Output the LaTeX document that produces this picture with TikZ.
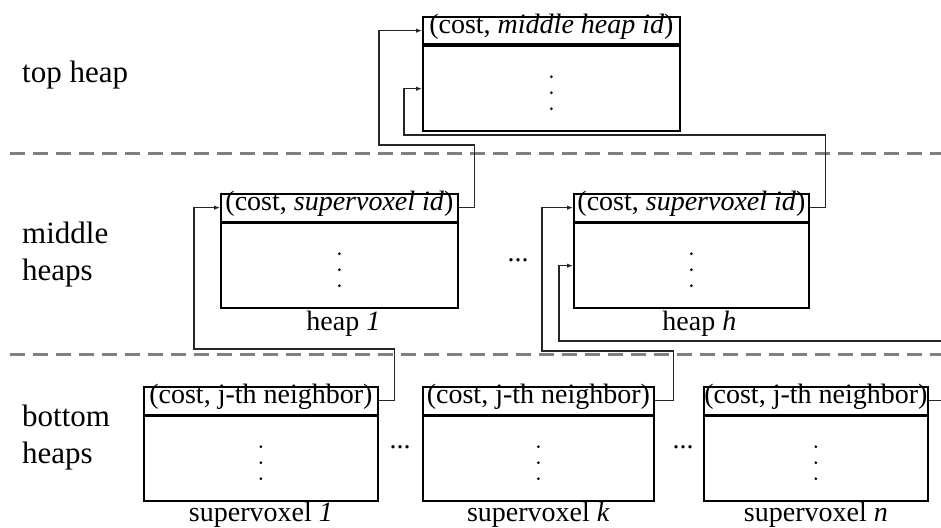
\documentclass[tikz,border=0pt]{standalone}
\usepackage{fontspec}
\setmainfont{Liberation Serif}
\usetikzlibrary{arrows.meta}
\begin{document}
\begin{tikzpicture}[x=1pt,y=-1pt,
  heapbox/.style={draw=black, line width=1.8pt, inner sep=0pt},
  headcell/.style={heapbox, minimum height=27.5pt, text height=0.69em, text depth=0.18em,
    font=\fontsize{28}{30}\selectfont},
  bodycell/.style={heapbox, minimum height=85pt, anchor=north},
  conn/.style={draw=black!85, line width=1.1pt},
  arrowin/.style={-{Latex[length=6pt,width=4.5pt]}},
  sep/.style={draw=black!50, line width=3pt, dash pattern=on 15pt off 8pt},
  sidelabel/.style={anchor=base west, inner sep=0pt, align=left,
    font=\fontsize{31}{37}\selectfont},
  caption/.style={anchor=base, inner sep=0pt, font=\fontsize{28}{30}\selectfont},
  gap/.style={anchor=base, inner sep=0pt, font=\fontsize{28}{30}\selectfont},
]
\useasboundingbox (0,0) rectangle (941,527);

% level separators
\draw[sep] (10,153) -- (941,153);
\draw[sep] (10,354) -- (941,354);

% level names (a two-line node sits on its last baseline)
\node[sidelabel] (lt) at (22,82) {top heap};
\node[sidelabel] (lm) at (22,280) {middle\\heaps};
\node[sidelabel] (lb) at (22,463) {bottom\\heaps};

% top heap
\node[headcell, minimum width=257pt, anchor=north west] (Th) at (422,16) {(cost, \textit{middle heap id})};
\node[bodycell, minimum width=257pt] (T) at (Th.south) {};

% middle heaps
\node[headcell, minimum width=237pt, anchor=north west] (H1h) at (220,193) {(cost, \textit{supervoxel id})};
\node[bodycell, minimum width=237pt] (H1) at (H1h.south) {};
\node[headcell, minimum width=235pt, anchor=north west] (Hhh) at (573,193) {(cost, \textit{supervoxel id})};
\node[bodycell, minimum width=235pt] (Hh) at (Hhh.south) {};

% bottom heaps
\node[headcell, minimum width=234pt, anchor=north west] (B1h) at (143,386) {(cost, j-th neighbor)};
\node[bodycell, minimum width=234pt] (B1) at (B1h.south) {};
\node[headcell, minimum width=231pt, anchor=north west] (Bkh) at (422,386) {(cost, j-th neighbor)};
\node[bodycell, minimum width=231pt] (Bk) at (Bkh.south) {};
\node[headcell, minimum width=224pt, anchor=north west] (Bnh) at (703,386) {(cost, j-th neighbor)};
\node[bodycell, minimum width=224pt] (Bn) at (Bnh.south) {};

% vertical ellipses inside the heaps
\foreach \b in {T,H1,Hh,B1,Bk,Bn}
  \foreach \d in {12,-4,-20}
    \fill ([yshift=\d pt]\b.center) circle (1.5pt);

% heap captions
\node[caption] (c1) at ([xshift=4pt,yshift=-21pt]H1.south) {heap \textit{1}};
\node[caption] (ch) at ([xshift=8pt,yshift=-21pt]Hh.south) {heap \textit{h}};
\node[caption] (s1) at ([yshift=-19.5pt]B1.south) {supervoxel \textit{1}};
\node[caption] (sk) at ([yshift=-19.5pt]Bk.south) {supervoxel \textit{k}};
\node[caption] (sn) at ([yshift=-19.5pt]Bn.south) {supervoxel \textit{n}};

% horizontal ellipses between heaps
\node[gap] (g1) at (518,261) {...};
\node[gap] (g2) at (400,448) {...};
\node[gap] (g3) at (683,448) {...};

% links from each heap's top entry to the heap above
\draw[conn,arrowin] (H1h.east) -- ++(16,0) |- (379,145) |- (Th.west);
\draw[conn,arrowin] (Hhh.east) -- ++(16,0) |- (404,135) |- (T.west);
\draw[conn,arrowin] (B1h.east) -- ++(16,0) |- (194,349) |- (H1h.west);
\draw[conn,arrowin] (Bkh.east) -- ++(19,0) |- (542,351) |- (Hhh.west);
\begin{scope}
  \clip (0,0) rectangle (941,527);
  \draw[conn,arrowin] (Bnh.east) -- ++(40,0) |- (559,341) |- (Hh.west);
\end{scope}
\end{tikzpicture}
\end{document}
